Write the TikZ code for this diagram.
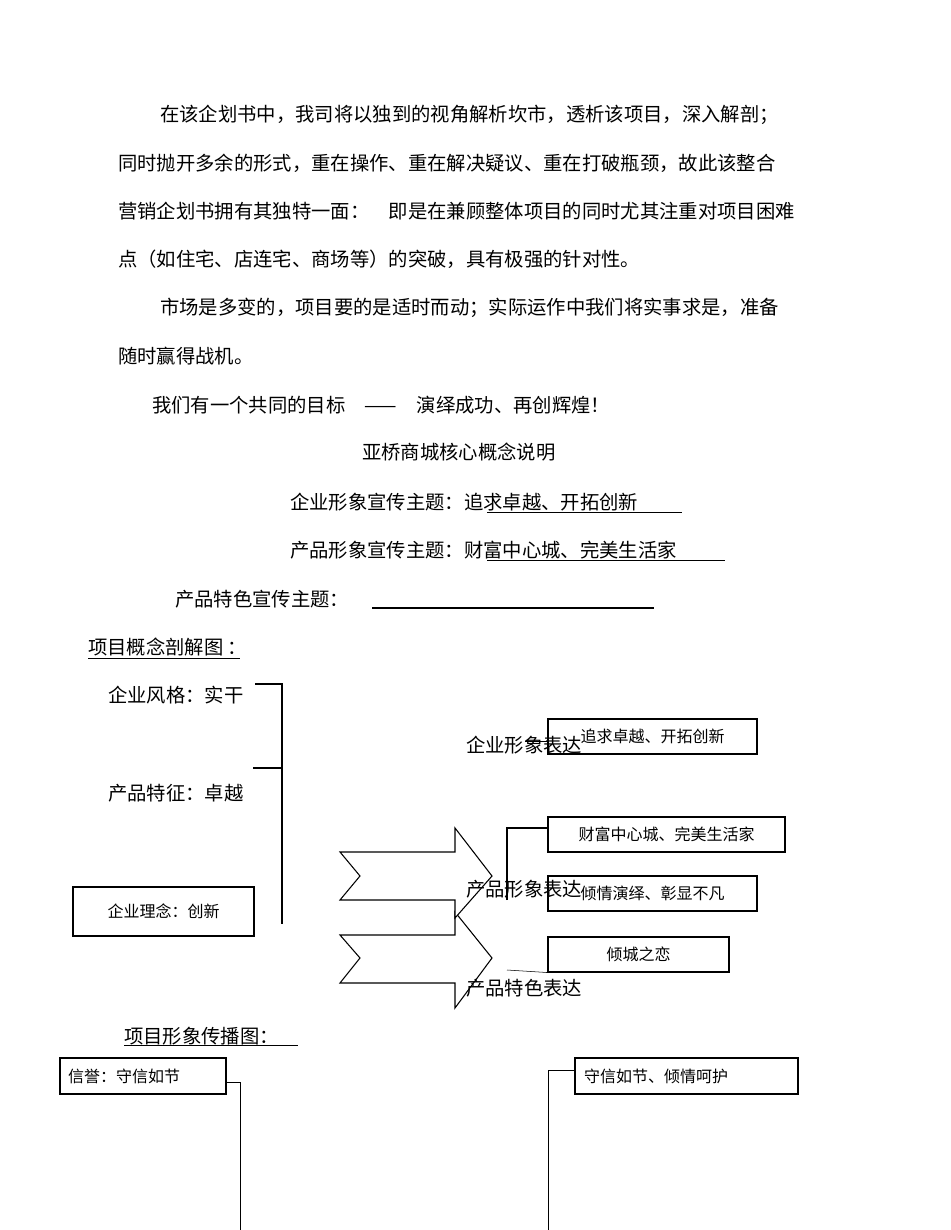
\documentclass[tikz,border=0pt]{standalone}
\usepackage{fontspec}
\setmainfont{Noto Sans CJK SC}
\begin{document}
\begin{tikzpicture}[x=0.75pt,y=-0.75pt,
  t/.style={anchor=west,inner sep=0,font=\fontsize{14.5}{16}\selectfont},
  bt/.style={inner sep=0,font=\fontsize{12}{14}\selectfont},
  bx/.style={draw,thick},
  ln/.style={thick}]
\useasboundingbox (0,0) rectangle (950,1230);
\node[t] (p1) at (160,115) {在该企划书中，我司将以独到的视角解析坎市，透析该项目，深入解剖；};
\node[t] (p2) at (118,163) {同时抛开多余的形式，重在操作、重在解决疑议、重在打破瓶颈，故此该整合};
\node[t] (p3) at (118,211) {营销企划书拥有其独特一面：\quad 即是在兼顾整体项目的同时尤其注重对项目困难};
\node[t] (p4) at (118,259) {点（如住宅、店连宅、商场等）的突破，具有极强的针对性。};
\node[t] (p5) at (160,308) {市场是多变的，项目要的是适时而动；实际运作中我们将实事求是，准备};
\node[t] (p6) at (118,356) {随时赢得战机。};
\node[t] (p7) at (152,405) {我们有一个共同的目标\quad ——\quad 演绎成功、再创辉煌！};
\node[t] (ti) at (362,452) {亚桥商城核心概念说明};
\node[t] (s1) at (290,502) {企业形象宣传主题：追求卓越、开拓创新};
\draw (487,512) -- (682,512);
\node[t] (s2) at (290,550) {产品形象宣传主题：财富中心城、完美生活家};
\draw (487,560) -- (725,560);
\node[t] (s3) at (175,599) {产品特色宣传主题：};
\draw[thick] (372,608) -- (654,608);
\node[t] (h1) at (88,647) {项目概念剖解图 ：};
\draw (88,658) -- (240,658);
% left bracket
\node[t] (a1) at (108,695) {企业风格：实干};
\node[t] (a2) at (108,793) {产品特征：卓越};
\node[bx,minimum width=181*0.75pt,minimum height=49*0.75pt,bt] (a3) at (163.5,911.5) {企业理念：创新};
\coordinate (b1) at (255,684); \coordinate (b2) at (282,684); \coordinate (b3) at (282,924);
\coordinate (b4) at (253,768); \coordinate (b5) at (282,768);
\draw[ln] (b1) -- (b2) -- (b3);
\draw[ln] (b4) -- (b5);
% arrows
\draw[thick,fill=white] (340,935) -- (455,935) -- (455,912) -- (492,958) -- (455,1008) -- (455,983) -- (340,983) -- (360,958) -- cycle;
\draw[thick,fill=white] (340,852) -- (455,852) -- (455,828) -- (492,876) -- (455,918) -- (455,900) -- (340,900) -- (360,876) -- cycle;
% right boxes
\node[bx,minimum width=209*0.75pt,minimum height=35*0.75pt,bt] (r1) at (652.5,736.5) {追求卓越、开拓创新};
\node[bx,minimum width=237*0.75pt,minimum height=35*0.75pt,bt] (r2) at (666.5,834.5) {财富中心城、完美生活家};
\node[bx,minimum width=209*0.75pt,minimum height=35*0.75pt,bt] (r3) at (652.5,893.5) {倾情演绎、彰显不凡};
\node[bx,minimum width=181*0.75pt,minimum height=35*0.75pt,bt] (r4) at (638.5,954.5) {倾城之恋};
\coordinate (c1) at (525,741);
\draw (c1) -- (r1.west |- c1);
\coordinate (c2) at (507,828); \coordinate (c3) at (507,900);
\draw[ln] (c3) -- (c2) -- (r2.west |- c2);
\coordinate (c4) at (507,970);
\draw (c4) -- (r4.south west);
\node[t,fill=none] (e1) at (466,745) {企业形象表达};
\node[t] (e2) at (466,889) {产品形象表达};
\node[t] (e3) at (466,988) {产品特色表达};
% bottom
\node[t] (h2) at (124,1036) {项目形象传播图：};
\draw (124,1045) -- (298,1045);
\node[bx,minimum width=166*0.75pt,minimum height=36*0.75pt,bt,text width=150*0.75pt,align=left] (d1) at (143,1076) {信誉：守信如节};
\node[bx,minimum width=223*0.75pt,minimum height=36*0.75pt,bt,text width=205*0.75pt,align=left] (d2) at (686.5,1076) {守信如节、倾情呵护};
\coordinate (f1) at (240,1082); \coordinate (f2) at (240,1230);
\draw (d1.east |- f1) -- (f1) -- (f2);
\coordinate (g1) at (548,1070); \coordinate (g2) at (548,1230);
\draw (d2.west |- g1) -- (g1) -- (g2);
\end{tikzpicture}
\end{document}
